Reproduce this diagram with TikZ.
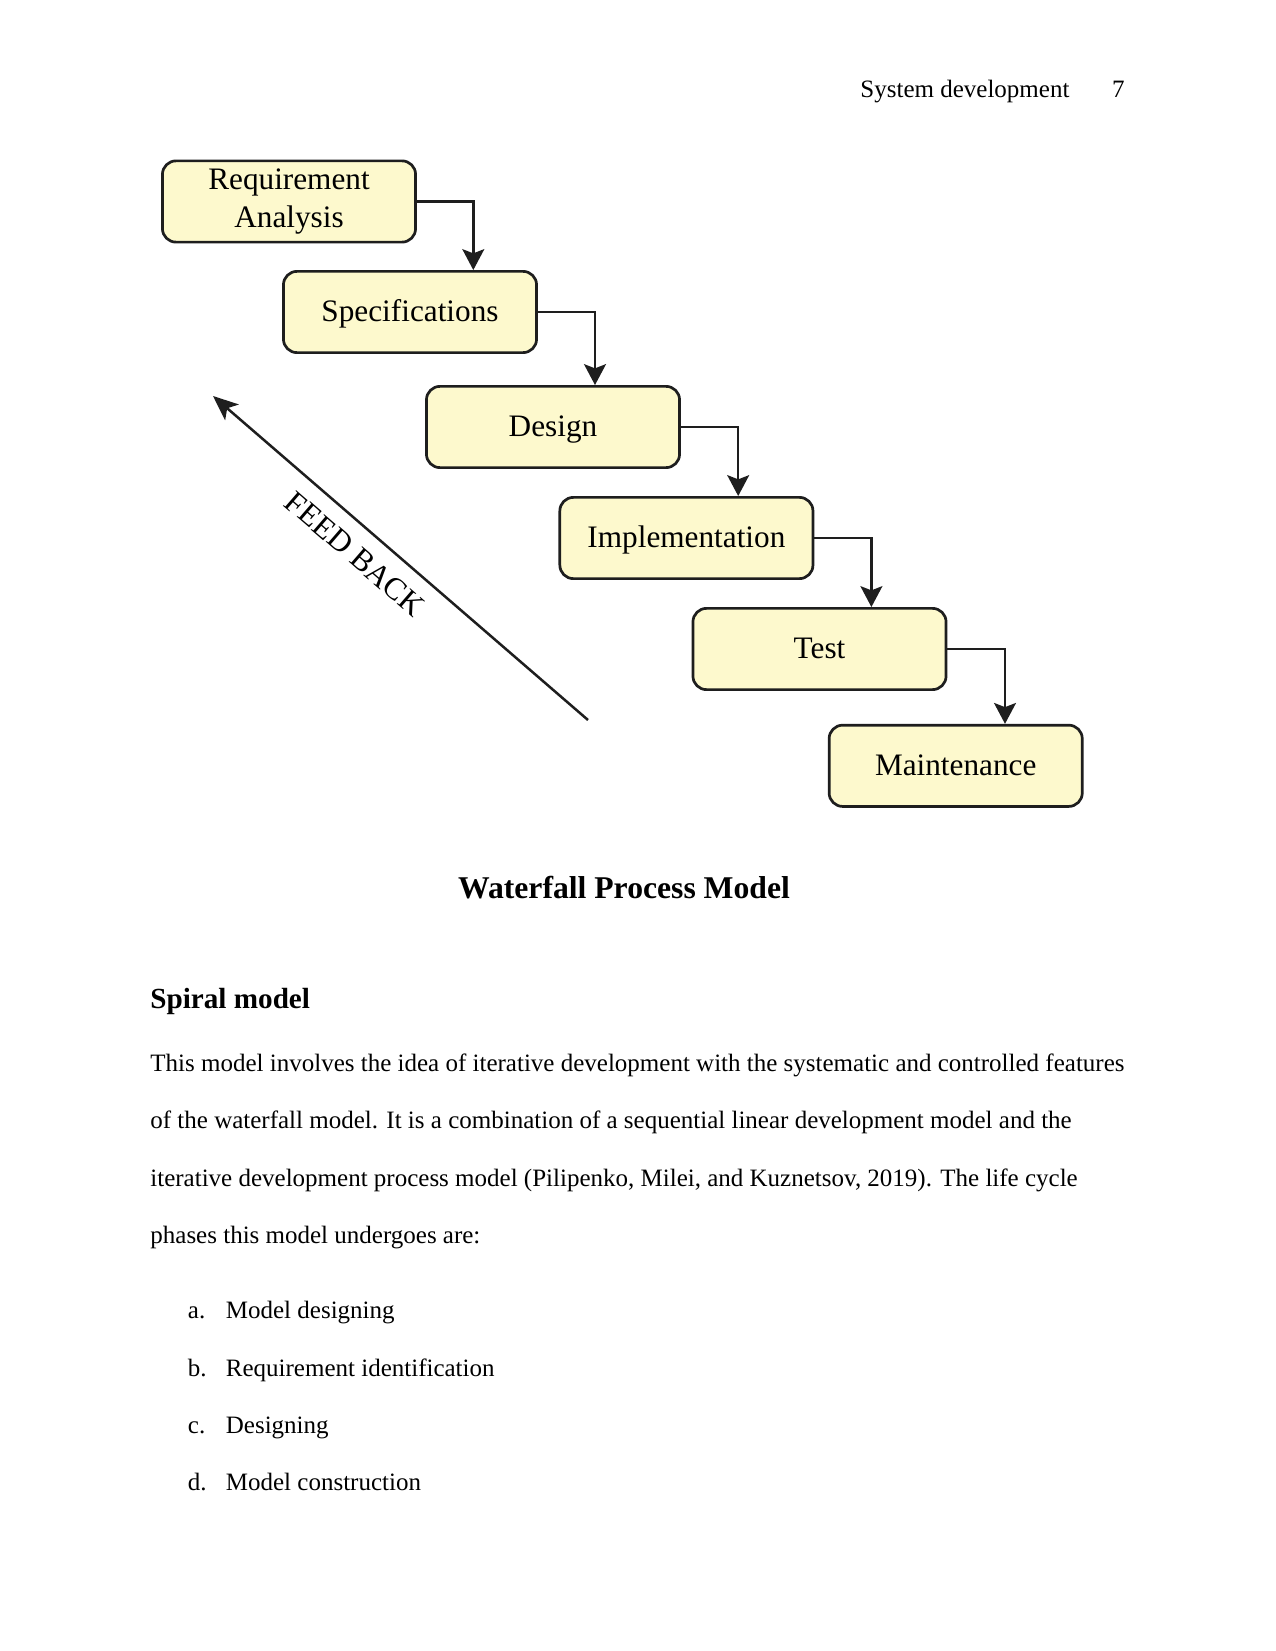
\documentclass[tikz,border=0pt]{standalone}
\usepackage{fontspec}
\setmainfont{Liberation Serif}
\usetikzlibrary{arrows.meta,calc}
\definecolor{boxfill}{RGB}{253,249,205}
\definecolor{boxline}{RGB}{30,30,30}
\begin{document}
\begin{tikzpicture}[x=0.48pt,y=-0.48pt,
  phase/.style={draw=boxline, line width=1.3pt, fill=boxfill, rounded corners=6.5pt,
    minimum height=39pt, minimum width=121.5pt, inner sep=0pt, align=center,
    font=\fontsize{15}{18}\selectfont},
  oneline/.style={text height=11pt, text depth=1.5pt},
  flow/.style={draw=boxline, line width=1.2pt, -{Stealth[length=10pt,width=10.5pt,inset=2pt]}},
  fb/.style={draw=boxline, line width=1.2pt, -{Stealth[length=12pt,width=10pt,inset=3pt]}},
  body/.style={anchor=base west, inner sep=0pt, font=\fontsize{12}{14}\selectfont}
]
\useasboundingbox[fill=white] (0,0) rectangle (1275,1651);

% header
\node[body] (hdr) at (860,98) {System development};
\node[anchor=base east, inner sep=0pt, font=\fontsize{12}{14}\selectfont] (pg) at (1125,98) {7};

% boxes
\node[phase] (req) at (289,201.5) {Requirement\\Analysis};
\node[phase, oneline] (spec) at (410,312) {Specifications};
\node[phase, oneline] (des) at (553,427) {Design};
\node[phase, oneline] (imp) at (686.4,538) {Implementation};
\node[phase, oneline] (tst) at (819.5,649) {Test};
\node[phase, oneline] (mnt) at (955.7,765.8) {Maintenance};

% flow arrows
\draw[flow] (req.east) -| ($(spec.north)+(63.3,0)$);
\draw[flow] (spec.east) -| ($(des.north)+(42,0)$);
\draw[flow] (des.east) -| ($(imp.north)+(51.8,0)$);
\draw[flow] (imp.east) -| ($(tst.north)+(51.9,0)$);
\draw[flow] (tst.east) -| ($(mnt.north)+(49.3,0)$);

% feedback
\coordinate (fbs) at (588,720);
\coordinate (fbe) at (213,396);
\draw[fb] (fbs) -- (fbe);
\node[rotate=-40.8, inner sep=0pt, font=\fontsize{15}{18}\selectfont] (fbl) at (355,554) {FEED BACK};

% caption
\node[anchor=base, inner sep=0pt, font=\fontsize{15.2}{17}\selectfont\bfseries] (cap) at (624,898) {Waterfall Process Model};

% text
\node[anchor=base west, inner sep=0pt, font=\fontsize{14}{16}\selectfont\bfseries] (sec) at (150,1008) {Spiral model};
\node[body] (l1) at (150,1071) {This model involves the idea of iterative development with the systematic and controlled features};
\node[body] (l2) at (150,1128.6) {of the waterfall model. It is a combination of a sequential linear development model and the};
\node[body] (l3) at (150,1186.2) {iterative development process model (Pilipenko, Milei, and Kuznetsov, 2019). The life cycle};
\node[body] (l4) at (150,1243.8) {phases this model undergoes are:};

\node[body] (ia) at (187.5,1318) {a.};
\node[body] (ta) at (225.5,1318) {Model designing};
\node[body] (ib) at (187.5,1376) {b.};
\node[body] (tb) at (225.5,1376) {Requirement identification};
\node[body] (ic) at (187.5,1433) {c.};
\node[body] (tc) at (225.5,1433) {Designing};
\node[body] (id) at (187.5,1490.5) {d.};
\node[body] (td) at (225.5,1490.5) {Model construction};
\end{tikzpicture}
\end{document}
